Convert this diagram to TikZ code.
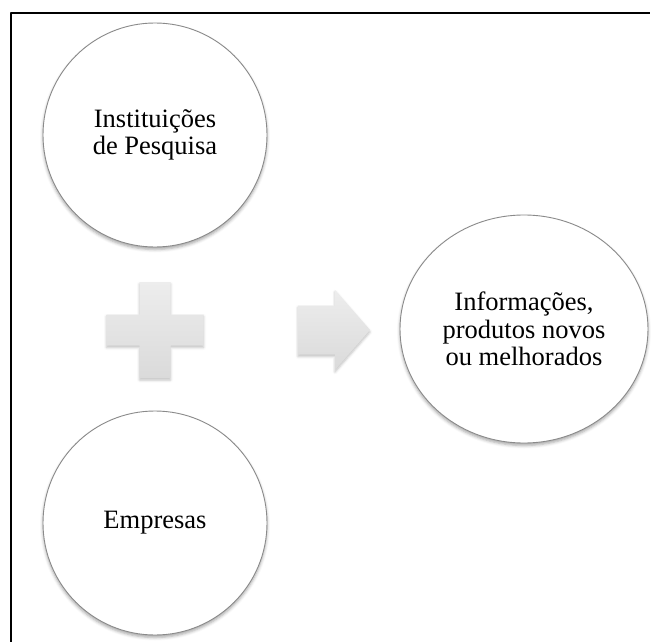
\documentclass[tikz,border=0pt]{standalone}
\usepackage{fontspec}
\setmainfont{Liberation Serif}
\usetikzlibrary{shapes.geometric,shadows.blur}
\definecolor{contorno}{HTML}{8A8A8A}
\definecolor{claro}{HTML}{EDEDED}
\definecolor{escuro}{HTML}{DADADA}
\tikzset{
  bolha/.style={draw=contorno,line width=.9pt,fill=white,align=center,
    blur shadow={shadow xshift=0pt,shadow yshift=-2.5pt,shadow blur radius=3pt,shadow opacity=35}},
  forma/.style={top color=claro,bottom color=escuro,
    blur shadow={shadow xshift=0pt,shadow yshift=-2pt,shadow blur radius=2.5pt,shadow opacity=25}}
}
\begin{document}
\begin{tikzpicture}[x=1pt,y=-1pt,font=\fontsize{26.5}{27.5}\selectfont,line join=round]
\useasboundingbox (0,0) rectangle (651,642);
\path
(155,135)coordinate(I)
(155,523)coordinate(E)
(524,329)coordinate(R)
(155,330)coordinate(M)
(334,330)coordinate(S)
;
% moldura
\draw[line width=2pt] (11,642)--(11,13.3)--(650,13.3);
% sinal de mais e seta
\shade[forma] (M) ++(-15.5,-48) -- ++(31,0) -- ++(0,32.5) -- ++(33,0) -- ++(0,31) -- ++(-33,0)
  -- ++(0,32.5) -- ++(-31,0) -- ++(0,-32.5) -- ++(-33,0) -- ++(0,-31) -- ++(33,0) -- cycle;
\shade[forma] (S) ++(-36,-24.5) -- ++(37,0) -- ++(0,-15.5) -- ++(35,40) -- ++(-35,40)
  -- ++(0,-15.5) -- ++(-37,0) -- cycle;
% bolhas
\node[bolha,circle,minimum size=224,inner sep=2pt] (inst) at (I) {Instituições\\de Pesquisa};
\node[bolha,circle,minimum size=224] (emp) at (E) {Empresas};
\node[bolha,ellipse,minimum width=248,minimum height=228,inner sep=1pt] (info) at (R) {Informações,\\produtos novos\\ou melhorados};
\end{tikzpicture}
\end{document}
